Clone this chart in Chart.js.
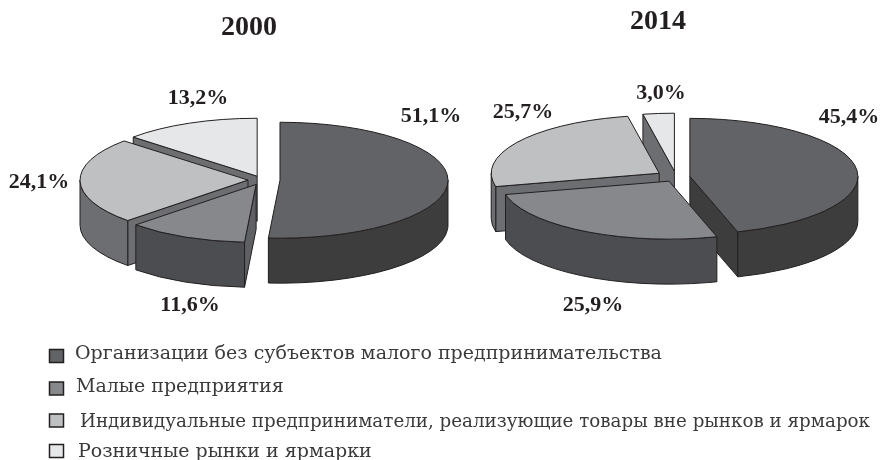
<!DOCTYPE html>
<html lang="ru"><head><meta charset="utf-8">
<style>html,body{margin:0;padding:0;background:#fff;width:881px;height:460px;overflow:hidden}
canvas{position:absolute;left:0;top:0}</style>
<script src="https://cdn.jsdelivr.net/npm/chart.js@4"></script></head>
<body><canvas id="a" width="881" height="460"></canvas><canvas id="b" width="881" height="460"></canvas>
<script>
const categories = ['Организации без субъектов малого предпринимательства','Малые предприятия','Индивидуальные предприниматели, реализующие товары вне рынков и ярмарок','Розничные рынки и ярмарки'];
const values2000 = [51.1, 11.6, 24.1, 13.2];
const values2014 = [45.4, 25.9, 25.7, 3.0];
const years = ['2000','2014'];

const topColors = ['#626366','#87888b','#bfc0c2','#e6e7e9'];
const wallColors = ['#3d3d3e','#4c4d50','#6d6e71','#6d6e71'];
const faceColors = ['#3d3d3e','#5f6063','#6d6e71','#6d6e71'];
const edge = '#231f20';
const K = 0.345, DEPTH = 45;
const titleFont = 'bold 28px "Liberation Serif"', valueFont = 'bold 22px "Liberation Serif"', legendFont = '19px "DejaVu Serif"';

const pie3d = {
  id:'pie3d',
  beforeDatasetsDraw(chart){
    const ctx = chart.ctx, meta = chart.getDatasetMeta(0);
    const slices = meta.data.map((arc,i)=>{
      const o = chart.data.datasets[0].explode[i], p = arc.getProps(['x','y','startAngle','endAngle','outerRadius']);
      const mid = (p.startAngle+p.endAngle)/2;
      return {i, r:p.outerRadius, a:p.startAngle, b:p.endAngle, x:p.x+Math.cos(mid)*o, y:p.y+Math.sin(mid)*o*K};
    }).sort((s,t)=>s.y-t.y);
    ctx.save(); ctx.strokeStyle = edge; ctx.lineWidth = 1; ctx.lineJoin='round';
    for(const s of slices){
      const ry = s.r*K;
      const face = ang=>{
        ctx.beginPath(); ctx.moveTo(s.x,s.y);
        ctx.lineTo(s.x+s.r*Math.cos(ang), s.y+ry*Math.sin(ang));
        ctx.lineTo(s.x+s.r*Math.cos(ang), s.y+ry*Math.sin(ang)+DEPTH);
        ctx.lineTo(s.x,s.y+DEPTH); ctx.closePath();
        ctx.fillStyle = faceColors[s.i]; ctx.fill(); ctx.stroke();
      };
      if(Math.cos(s.a)<0) face(s.a);
      if(Math.cos(s.b)>0) face(s.b);
      const w0 = Math.max(s.a,0), w1 = Math.min(s.b,Math.PI);
      if(w1>w0){
        ctx.beginPath(); ctx.ellipse(s.x,s.y,s.r,ry,0,w0,w1);
        ctx.ellipse(s.x,s.y+DEPTH,s.r,ry,0,w1,w0,true); ctx.closePath();
        ctx.fillStyle = wallColors[s.i]; ctx.fill(); ctx.stroke();
      }
      ctx.beginPath(); ctx.moveTo(s.x,s.y); ctx.ellipse(s.x,s.y,s.r,ry,0,s.a,s.b); ctx.closePath();
      ctx.fillStyle = topColors[s.i]; ctx.fill(); ctx.stroke();
    }
    ctx.restore();
    return false;
  },
  afterDraw(chart){
    const ctx = chart.ctx, c = chart.options.plugins.pie3d;
    ctx.save(); ctx.fillStyle = '#231f20'; ctx.textAlign='center'; ctx.textBaseline='alphabetic';
    ctx.font = titleFont; ctx.fillText(c.title, c.titleAt[0], c.titleAt[1]);
    ctx.font = valueFont;
    chart.data.datasets[0].data.forEach((v,i)=>{
      ctx.fillText(v.toFixed(1).replace('.',',')+'%', c.labelAt[i][0], c.labelAt[i][1]);
    });
    if(c.legendAt){
      categories.forEach((t,i)=>{
        const [sx,sy,tx,ty,maxW] = c.legendAt[i];
        ctx.fillStyle = topColors[i]; ctx.strokeStyle='#231f20'; ctx.lineWidth=1.5;
        ctx.fillRect(sx,sy,14,13); ctx.strokeRect(sx,sy,14,13);
        ctx.fillStyle = '#3a3a3c'; ctx.font = legendFont; ctx.textAlign='left';
        ctx.fillText(t,tx,ty,maxW);
      });
    }
    ctx.restore();
  }
};
function make(id,data,explode,padding,cfg){
  return new Chart(document.getElementById(id),{
    type:'pie', plugins:[pie3d],
    data:{labels:categories,datasets:[{data,explode,backgroundColor:topColors}]},
    options:{responsive:false,animation:false,radius:168,layout:{padding},
      plugins:{legend:{display:false},tooltip:{enabled:false},pie3d:cfg}}
  });
}
make('a',values2000,[18,14,14,12],{left:0,right:357,top:0,bottom:100},{
  title:years[0],titleAt:[249,35],labelAt:[[431,122],[190,311],[39,188],[198,104]],
  legendAt:[[49.5,349.5,75,359,592],[49.5,382,76,392,210],[49.5,414,80,427,790],[49.5,444.5,78,457,296]]});
make('b',values2014,[14,14,20,17],{left:471,right:0,top:0,bottom:106},{
  title:years[1],titleAt:[658,29],labelAt:[[849,123],[593,311],[523,118],[661,99]]});
</script></body></html>
